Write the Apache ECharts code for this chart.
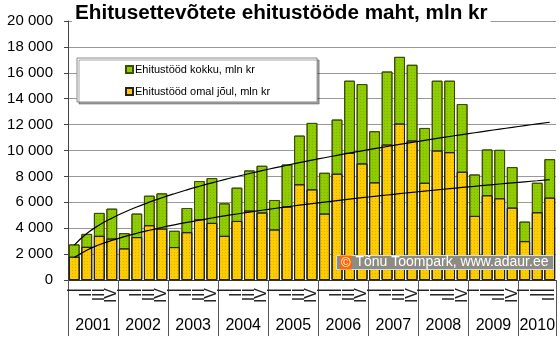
<!DOCTYPE html>
<html>
<head>
<meta charset="utf-8">
<script src="https://cdn.jsdelivr.net/npm/echarts@6/dist/echarts.min.js"></script>
<style>
html,body{margin:0;padding:0;background:#fff;}
#chart{width:560px;height:342px;}
</style>
</head>
<body>
<div id="chart"></div>
<script>
// ---- data ----
const years = ['2001','2002','2003','2004','2005','2006','2007','2008','2009','2010'];
const quartersPerYear = [4,4,4,4,4,4,4,4,4,3];
const quarterNames = ['I','II','III','IV'];
const totalWork = [2750,3560,5180,5510, 3620,5130,6510,6690, 3800,5560,7640,7870,
  5920,7130,8460,8820, 6180,8920,11150,12130, 8280,12390,15390,15130,
  11490,16100,17230,16620, 11740,15390,15390,13590, 8150,10080,10050,8720,
  4510,7510,9330];
const ownWork = [1800,2560,3410,3200, 2440,3310,4230,3970, 2540,3690,4690,4410,
  3410,4560,5360,5210, 3900,5670,7390,7000, 5130,8210,9820,9000,
  7540,10460,12080,10770, 7510,10000,9870,8360, 4950,6540,6310,5590,
  3000,5230,6360];
const seriesNames = ['Ehitustööd kokku, mln kr','Ehitustööd omal jõul, mln kr'];
const titleText = 'Ehitusettevõtete ehitustööde maht, mln kr';
const creditText = 'Tõnu Toompark, www.adaur.ee';

// ---- derived ----
const quarterCats = [];
years.forEach((y, i) => { for (let q = 0; q < quartersPerYear[i]; q++) quarterCats.push(quarterNames[q]); });
// year axis on half-quarter boundaries
const nHalf = quarterCats.length * 2;
const yearCats = new Array(nHalf + 1).fill('');
const yearBounds = [0];
let acc = 0;
years.forEach((y, i) => {
  const start = acc; acc += quartersPerYear[i] * 2;
  yearCats[(start + acc) / 2] = y;
  yearBounds.push(acc);
});

// power trendline (least squares on ln-ln, like a spreadsheet power trend)
function powerFit(vals) {
  let n = vals.length, sx = 0, sy = 0, sxx = 0, sxy = 0;
  vals.forEach((v, i) => { const x = Math.log(i + 1), y = Math.log(v); sx += x; sy += y; sxx += x * x; sxy += x * y; });
  const b = (n * sxy - sx * sy) / (n * sxx - sx * sx);
  const a = Math.exp((sy - b * sx) / n);
  return vals.map((_, i) => a * Math.pow(i + 1, b));
}

const FONT = "'Liberation Sans', Arial, sans-serif";
const dots = { symbol: 'rect', symbolSize: 1, dashArrayX: [1, 2], dashArrayY: [1, 2], rotation: 0, color: 'rgba(60,60,0,0.18)' };
const chart = echarts.init(document.getElementById('chart'));
chart.setOption({
  animation: false,
  textStyle: { fontFamily: FONT },
  title: [{
    text: titleText, left: 72, top: 0,
    padding: [3, 3, 1, 3], backgroundColor: '#fff',
    textStyle: { fontSize: 20.7, fontWeight: 'bold', color: '#000', fontFamily: FONT }
  }, {
    text: '{c|©} ' + creditText, left: 336, top: 255,
    padding: [0, 5, 0, 4], backgroundColor: '#8c8c84', borderColor: '#dcdcdc', borderWidth: 1,
    textStyle: { fontSize: 14, fontWeight: 'normal', color: '#fff', fontFamily: FONT, lineHeight: 15,
      rich: { c: { backgroundColor: '#ff6a00', color: '#fff', fontSize: 13, padding: [1, 1, 0, 1], fontFamily: FONT } } }
  }],
  legend: {
    data: seriesNames, orient: 'vertical', left: 77, top: 58,
    padding: [6, 47, 5, 48], itemGap: 11, itemWidth: 7, itemHeight: 7,
    backgroundColor: '#fff', borderColor: '#888', borderWidth: 1,
    shadowColor: 'rgba(0,0,0,0.35)', shadowOffsetX: 2, shadowOffsetY: 2, shadowBlur: 0,
    textStyle: { fontSize: 11, color: '#000', fontFamily: FONT, padding: [0, 0, 0, -3] },
    icon: 'rect'
  },
  grid: { left: 68, right: 4, top: 21, bottom: 62 },
  xAxis: [{
    type: 'category', data: quarterCats, boundaryGap: true, position: 'bottom',
    axisLine: { lineStyle: { color: '#333', width: 1 } },
    axisTick: { length: 26, lineStyle: { color: '#777' }, interval: 0 },
    axisLabel: { interval: 0, rotate: 90, fontSize: 16, color: '#222', margin: 8, fontFamily: FONT }
  }, {
    type: 'category', data: yearCats, boundaryGap: false, position: 'bottom',
    axisLine: { show: false },
    axisTick: { length: 56, lineStyle: { color: '#555' }, interval: (idx) => yearBounds.indexOf(idx) >= 0 },
    axisLabel: { interval: 0, fontSize: 16, color: '#000', margin: 38, fontFamily: FONT }
  }],
  yAxis: {
    type: 'value', min: 0, max: 20000, interval: 2000,
    axisLine: { show: true, lineStyle: { color: '#444' } },
    axisTick: { show: true, length: 4, lineStyle: { color: '#444' } },
    splitLine: { lineStyle: { color: '#999', width: 1 } },
    axisLabel: { fontSize: 15, color: '#000', margin: 15, fontFamily: FONT,
      formatter: v => String(v).replace(/\B(?=(\d{3})+(?!\d))/g, ' ') }
  },
  series: [{
    name: seriesNames[0], type: 'bar', data: totalWork, xAxisIndex: 0,
    barCategoryGap: '14%', barGap: '-100%',
    itemStyle: { color: '#8fcc00', borderColor: '#3d4d00', borderWidth: 1, decal: dots }
  }, {
    name: seriesNames[1], type: 'bar', data: ownWork, xAxisIndex: 0,
    barCategoryGap: '14%', barGap: '-100%',
    itemStyle: { color: '#ffcc00', borderColor: '#222', borderWidth: 1, decal: dots }
  }, {
    name: 'trend1', type: 'line', data: powerFit(totalWork), smooth: true, showSymbol: false,
    lineStyle: { color: '#000', width: 1.2 }, z: 5, silent: true
  }, {
    name: 'trend2', type: 'line', data: powerFit(ownWork), smooth: true, showSymbol: false,
    lineStyle: { color: '#000', width: 1.2 }, z: 5, silent: true
  }]
});
</script>
</body>
</html>
